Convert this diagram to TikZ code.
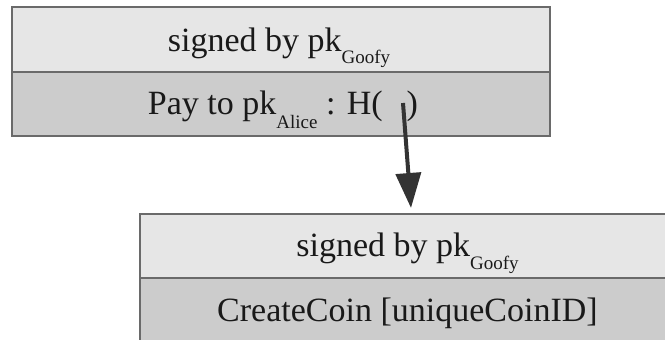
\documentclass[tikz,border=0pt]{standalone}
\usepackage{fontspec}
\setmainfont{Liberation Serif}
\usetikzlibrary{arrows.meta,calc}
\definecolor{rowlight}{HTML}{E6E6E6}
\definecolor{rowdark}{HTML}{CCCCCC}
\definecolor{edgegray}{HTML}{6A6A6A}
\definecolor{arrowgray}{HTML}{333333}
\newcommand{\subtxt}[2]{\raisebox{-#1pt}{\fontsize{19}{19}\selectfont #2}}
\begin{document}
\begin{tikzpicture}[x=1pt,y=-1pt,
  rowbox/.style={draw=edgegray,line width=2pt,minimum width=538pt,minimum height=64pt,inner sep=0pt,anchor=north west},
  rowtext/.style={anchor=base,inner sep=0pt,text=black!90,font=\fontsize{34}{40}\selectfont},
  pointer/.style={draw=arrowgray,line width=4pt,-{Triangle[width=25pt,length=35pt]}}]
\useasboundingbox (0,0) rectangle (665,340);
\clip (0,0) rectangle (665,340);
% upper transaction
\node[rowbox,fill=rowlight,minimum height=65pt] (a1) at (11,6) {};
\node[rowbox,fill=rowdark] (a2) at (11,71) {};
% lower transaction
\node[rowbox,fill=rowlight] (b1) at (139,213) {};
\node[rowbox,fill=rowdark] (b2) at (139,277) {};
% texts
\node[rowtext] (a1t) at (279,52) {signed by pk\subtxt{11.6}{Goofy}};
\node[rowtext] (a2t) at (283,114.3) {Pay to pk\subtxt{14}{Alice} : H(\hspace{24pt})};
\node[rowtext] (b1t) at (407.5,256) {signed by pk\subtxt{13}{Goofy}};
\node[rowtext] (b2t) at (407.5,321) {CreateCoin [uniqueCoinID]};
% hash pointer
\coordinate (hslot) at (403,103);
\draw[pointer] (hslot) -- ([shift={(2,-5)}]b1.north);
\end{tikzpicture}
\end{document}
